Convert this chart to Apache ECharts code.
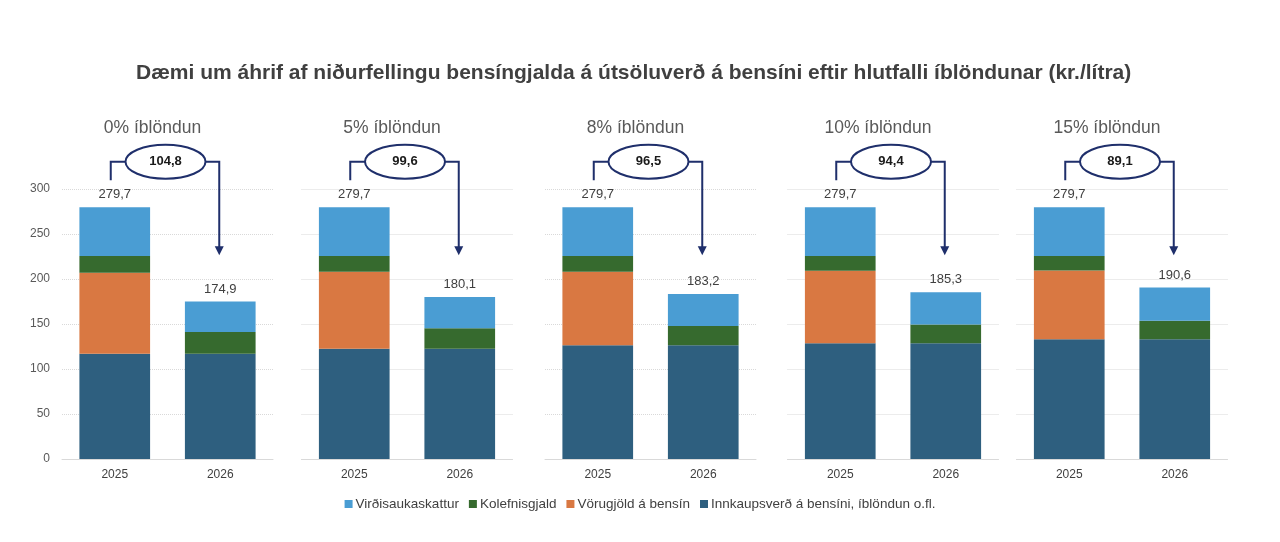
<!DOCTYPE html>
<html><head><meta charset="utf-8">
<script src="https://cdn.jsdelivr.net/npm/echarts@6/dist/echarts.min.js"></script>
<style>html,body{margin:0;padding:0;background:#fff}#c{width:1280px;height:542px}</style>
</head><body><div id="c"></div>
<script>
const panelTitles = ['0% íblöndun','5% íblöndun','8% íblöndun','10% íblöndun','15% íblöndun'];
const years = ['2025','2026'];
const seriesNames = ['Innkaupsverð á bensíni, íblöndun o.fl.','Vörugjöld á bensín','Kolefnisgjald','Virðisaukaskattur'];
// per panel: [2025, 2026]
const innkaup   = [[117.0,117.0],[122.6,122.6],[126.3,126.3],[128.5,128.5],[133.0,133.0]];
const vorugjold = [[90.0,0],[85.5,0],[81.8,0],[80.8,0],[76.5,0]];
const kolefni   = [[18.6,24.0],[17.5,22.6],[17.5,21.4],[16.3,20.9],[16.1,20.7]];
const vsk       = [[54.1,33.9],[54.1,34.9],[54.1,35.5],[54.1,35.9],[54.1,36.9]];
const totals    = [[279.7,174.9],[279.7,180.1],[279.7,183.2],[279.7,185.3],[279.7,190.6]];
const diffs     = [104.8, 99.6, 96.5, 94.4, 89.1];
const yTicks = {min:0, max:300, interval:50};

const colors = {'Innkaupsverð á bensíni, íblöndun o.fl.':'#2E5F7F','Vörugjöld á bensín':'#D97842','Kolefnisgjald':'#366A2E','Virðisaukaskattur':'#4A9DD3'};
const FONT = 'Liberation Sans, Arial, sans-serif';
const gridLefts = [62, 301.5, 545, 787.5, 1016.5];
const gridW = 211;
const fmt = v => v.toFixed(1).replace('.', ',');

const grids=[], xAxes=[], yAxes=[], series=[];
const dataSets = [innkaup, vorugjold, kolefni, vsk];
for (let p=0;p<5;p++){
  grids.push({left:gridLefts[p], width:gridW, top:189, height:270});
  xAxes.push({type:'category', gridIndex:p, data:years,
    axisLine:{show:true, lineStyle:{color:'#d9d9d9'}}, axisTick:{show:false},
    axisLabel:{color:'#404040', fontSize:12, fontFamily:FONT, margin:10}});
  yAxes.push({type:'value', gridIndex:p, min:yTicks.min, max:yTicks.max, interval:yTicks.interval,
    axisLine:{show:false}, axisTick:{show:false},
    axisLabel:{show:p===0, color:'#595959', fontSize:12, fontFamily:FONT, margin:12},
    splitLine:{show:true, lineStyle:{color:'#d9d9d9', type:'dotted'}}});
  dataSets.forEach((ds, k)=>{
    const s = {name:seriesNames[k], type:'bar', stack:'p'+p, xAxisIndex:p, yAxisIndex:p,
      barWidth:'67%', data:ds[p], itemStyle:{color:colors[seriesNames[k]]}, emphasis:{disabled:true}};
    if (k===3){
      s.label={show:true, position:'top', distance:6, color:'#404040', fontSize:13, fontFamily:FONT,
        formatter:(prm)=>fmt(totals[p][prm.dataIndex])};
    }
    series.push(s);
  });
}

const chart = echarts.init(document.getElementById('c'), null, {renderer:'canvas'});
chart.setOption({
  animation:false,
  title:{text:'Dæmi um áhrif af niðurfellingu bensíngjalda á útsöluverð á bensíni eftir hlutfalli íblöndunar (kr./lítra)',
    left:131, top:58, textStyle:{color:'#404040', fontSize:21, fontWeight:'bold', fontFamily:FONT}},
  legend:{bottom:26, left:'center', itemWidth:8, itemHeight:8, itemGap:10, icon:'rect',
    data:['Virðisaukaskattur','Kolefnisgjald','Vörugjöld á bensín','Innkaupsverð á bensíni, íblöndun o.fl.'],
    textStyle:{color:'#404040', fontSize:13.5, fontFamily:FONT, padding:[0,0,0,-2]}},
  grid:grids, xAxis:xAxes, yAxis:yAxes, series:series
});

// annotations computed from the axes
const g=[];
const lineC = '#1F2F6B';
for (let p=0;p<5;p++){
  const a = chart.convertToPixel({gridIndex:p}, [0, totals[p][0]]);
  const b = chart.convertToPixel({gridIndex:p}, [1, totals[p][1]]);
  const cx = (a[0]+b[0])/2 - 2;
  const xl = a[0] - 4, xr = b[0] - 1;
  const ey = a[1] - 45.5;
  const rx = 40, ry = 17;
  const tip = a[1] + 48;
  g.push({type:'text', style:{text:panelTitles[p], x:cx-13, y:a[1]-79, textAlign:'center', textVerticalAlign:'middle',
    fill:'#595959', font:'17.5px '+FONT}});
  g.push({type:'polyline', shape:{points:[[xl, a[1]-27],[xl, ey],[cx-rx, ey]]}, style:{stroke:lineC, lineWidth:2, fill:null}});
  g.push({type:'polyline', shape:{points:[[cx+rx, ey],[xr, ey],[xr, tip-8]]}, style:{stroke:lineC, lineWidth:2, fill:null}});
  g.push({type:'polygon', shape:{points:[[xr-4.5, tip-9],[xr+4.5, tip-9],[xr, tip]]}, style:{fill:lineC}});
  g.push({type:'ellipse', shape:{cx:cx, cy:ey, rx:rx, ry:ry}, style:{fill:'#fff', stroke:lineC, lineWidth:2}});
  g.push({type:'text', style:{text:fmt(diffs[p]), x:cx, y:ey, textAlign:'center', textVerticalAlign:'middle',
    fill:'#1a1a1a', font:'bold 13px '+FONT}});
}
chart.setOption({graphic:g});
</script></body></html>
